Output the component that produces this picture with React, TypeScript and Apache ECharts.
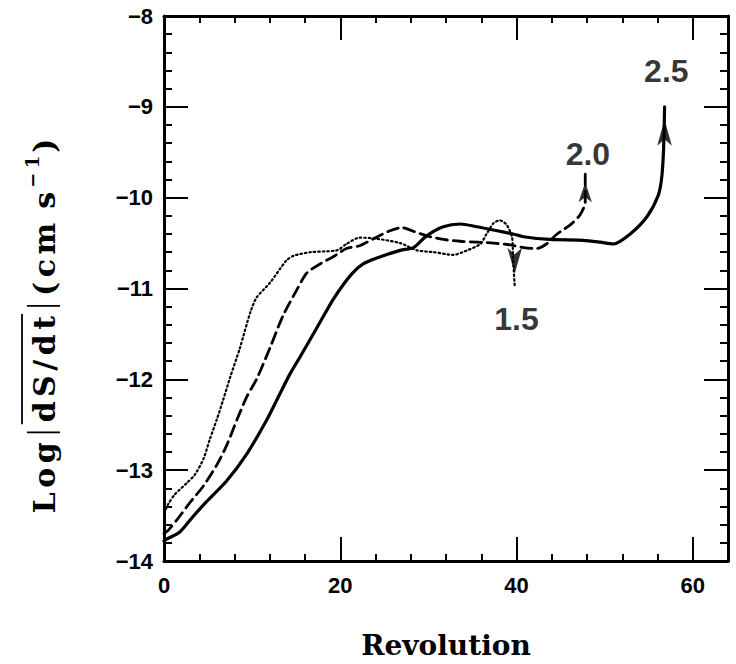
import React, { useEffect, useRef } from 'react';
import * as echarts from 'echarts';

// ---- data ----
const xTickLabels = [0, 20, 40, 60];
const yTickLabels = [-14, -13, -12, -11, -10, -9, -8];

const curve25: number[][] = [
  [0, -13.78], [0.3, -13.76], [1.8, -13.68], [3.3, -13.51], [4.8, -13.35], [7.1, -13.12],
  [9.4, -12.82], [11.7, -12.44], [13.2, -12.15], [14.3, -11.94], [15.4, -11.76], [17.3, -11.44],
  [19.2, -11.12], [20.4, -10.95], [21.5, -10.82], [22.6, -10.73], [24, -10.67], [26.8, -10.58],
  [28.3, -10.55], [29.8, -10.42], [31.7, -10.32], [33.6, -10.29], [35.5, -10.32], [38.1, -10.37],
  [39.6, -10.4], [40.8, -10.43], [43.8, -10.46], [47.6, -10.47], [49.5, -10.49], [51, -10.51],
  [52.9, -10.4], [54.8, -10.21], [56.1, -9.97], [56.5, -9.76], [56.7, -9.44], [56.8, -9.0],
];

const curve20: number[][] = [
  [0, -13.7], [0.5, -13.66], [1.6, -13.53], [3, -13.35], [4.5, -13.17], [6, -12.94],
  [7.1, -12.73], [8.3, -12.44], [9.4, -12.19], [10.5, -12.0], [12, -11.66], [13.5, -11.3],
  [15.1, -11.01], [16.2, -10.83], [17.7, -10.73], [19.2, -10.65], [20.7, -10.56], [22.2, -10.53],
  [24, -10.44], [25.5, -10.37], [27, -10.33], [28.3, -10.37], [29.8, -10.42], [31.7, -10.46],
  [33.6, -10.48], [35.5, -10.49], [37.4, -10.5], [39.3, -10.52], [40.8, -10.55], [42.3, -10.56],
  [43.4, -10.51], [44.6, -10.4], [46.1, -10.3], [47.2, -10.19], [47.8, -10.05], [47.8, -9.72],
];

const curve15: number[][] = [
  [0.2, -13.43], [0.5, -13.37], [1.2, -13.27], [2.6, -13.14], [3.5, -13.05], [4.5, -12.87],
  [5.2, -12.66], [6, -12.44], [6.7, -12.23], [7.5, -11.98], [8.6, -11.66], [9.8, -11.26],
  [10.5, -11.1], [12, -10.94], [13.9, -10.69], [14.7, -10.64], [16.6, -10.6], [19.6, -10.58],
  [20.7, -10.51], [22.2, -10.44], [24, -10.45], [26.8, -10.5], [28.7, -10.58], [30.6, -10.6],
  [32.8, -10.63], [34.4, -10.58], [35.9, -10.51], [36.6, -10.4], [37.4, -10.28], [38.1, -10.25],
  [38.9, -10.3], [39.5, -10.44], [39.6, -10.65], [39.8, -10.98],
];

const curveLabels = ['2.5', '2.0', '1.5'];
const labelAnchors: number[][] = [[57.0, -8.6], [48.1, -9.52], [40.0, -11.34]];

const X_MIN = 0, X_MAX = 64, Y_MIN = -14, Y_MAX = -8;

export default function App() {
  const ref = useRef<HTMLDivElement>(null);

  useEffect(() => {
    if (!ref.current) return;
    const chart = echarts.init(ref.current, null, { renderer: 'svg' });

    const cv = document.createElement('canvas').getContext('2d') as CanvasRenderingContext2D;
    const FAM = '"DejaVu Serif"';
    const FS = 30, FS_SUP = 18;
    const TRACK = 4.5;
    const measure = (t: string, size: number) => {
      cv.font = `bold ${size}px ${FAM}`;
      return cv.measureText(t).width;
    };

    // build rotated y-axis title (letters laid out one by one, a little spaced)
    const parts: any[] = [];
    let cx = 0;
    const gap = 10;
    const txt = (t: string, size = FS, y = 0) => {
      parts.push({ type: 'text', x: cx, y, style: { text: t, fontSize: size, fontWeight: 'bold', fontFamily: FAM, fill: '#000', verticalAlign: 'middle', align: 'left' } });
      cx += measure(t, size);
    };
    const word = (t: string, size = FS, y = 0) => {
      const chars = Array.from(t);
      chars.forEach((c, i) => {
        txt(c, size, y);
        if (i < chars.length - 1) cx += TRACK;
      });
    };
    const bar = () => {
      cx += gap;
      parts.push({ type: 'line', shape: { x1: cx, y1: -17, x2: cx, y2: 16 }, style: { stroke: '#000', lineWidth: 1.8 } });
      cx += gap;
    };
    word('Log');
    bar();
    const olStart = cx - 2;
    word('dS/dt');
    parts.push({ type: 'line', shape: { x1: olStart, y1: -22, x2: cx + 2, y2: -22 }, style: { stroke: '#000', lineWidth: 1.8 } });
    bar();
    word('(cm');
    cx += 14;
    word('s');
    cx += 4;
    word('\u22121', FS_SUP, -12);
    cx += 3;
    word(')');
    const total = cx;
    parts.forEach((p) => {
      if (p.type === 'text') p.x -= total / 2;
      else { p.shape.x1 -= total / 2; p.shape.x2 -= total / 2; }
    });

    const tickColor = '#000';
    const lineBase = { onZero: false, lineStyle: { color: '#000', width: 3 } };
    const xBase = { type: 'value', min: X_MIN, max: X_MAX, splitLine: { show: false } };
    const yBase = { type: 'value', min: Y_MIN, max: Y_MAX, splitLine: { show: false } };
    const labelStyle = { fontFamily: 'Liberation Sans', fontWeight: 'bold', fontSize: 22, color: '#000' };

    const xAxes: any[] = ['bottom', 'top'].flatMap((pos) => [
      { ...xBase, position: pos, interval: 4, axisLine: { show: true, ...lineBase }, axisTick: { inside: true, length: 7, lineStyle: { color: tickColor, width: 2 } }, axisLabel: { show: false } },
      {
        ...xBase, position: pos, interval: 20, axisLine: { show: false, onZero: false },
        axisTick: { inside: true, length: 24, lineStyle: { color: tickColor, width: 2 } },
        axisLabel: pos === 'bottom'
          ? { show: true, ...labelStyle, margin: 13, formatter: (v: number) => (xTickLabels.includes(v) ? String(v) : '') }
          : { show: false },
        name: pos === 'bottom' ? 'Revolution' : '',
        nameLocation: 'middle', nameGap: 70,
        nameTextStyle: { fontFamily: FAM, fontWeight: 'bold', fontSize: 28, color: '#000' },
      },
    ]);

    const yAxes: any[] = ['left', 'right'].flatMap((pos) => [
      { ...yBase, position: pos, interval: 0.2, axisLine: { show: true, ...lineBase }, axisTick: { inside: true, length: 8, lineStyle: { color: tickColor, width: 2 } }, axisLabel: { show: false } },
      {
        ...yBase, position: pos, interval: 1, axisLine: { show: false, onZero: false },
        axisTick: { inside: true, length: 24, lineStyle: { color: tickColor, width: 2 } },
        axisLabel: pos === 'left'
          ? {
            show: true, ...labelStyle, margin: 11, showMinLabel: true, showMaxLabel: true,
            formatter: (v: number) => {
              const r = Math.round(v);
              return yTickLabels.includes(r) ? (r < 0 ? '\u2212' + String(-r) : String(r)) : '';
            },
          }
          : { show: false },
      },
    ]);

    const lineSeries = (data: number[][], type: any, width: number) => ({
      type: 'line', xAxisIndex: 0, yAxisIndex: 0, data, showSymbol: false, smooth: 0.25,
      lineStyle: { color: '#000', width, type, cap: 'round' }, silent: true,
    });

    const tip = (c: number[][]) => c[c.length - 1];

    chart.setOption({
      animation: false,
      backgroundColor: '#fff',
      grid: { left: 164, right: 8, top: 16, bottom: 89, containLabel: false },
      xAxis: xAxes,
      yAxis: yAxes,
      series: [
        lineSeries(curve25, 'solid', 3.2),
        lineSeries(curve20, [11, 6], 2.8),
        lineSeries(curve15, [1.5, 3], 2.2),
        {
          type: 'scatter', xAxisIndex: 0, yAxisIndex: 0, symbol: 'arrow', symbolSize: [11, 26],
          itemStyle: { color: '#000' }, silent: true, z: 5,
          data: [
            { value: tip(curve25), symbolOffset: [0, '50%'] },
            { value: tip(curve20), symbolOffset: [0, '50%'], symbolSize: [10, 20] },
            { value: tip(curve15), symbolRotate: 180, symbolOffset: [0, '-50%'] },
          ],
        },
        {
          type: 'scatter', xAxisIndex: 0, yAxisIndex: 0, symbolSize: 0, itemStyle: { color: '#000' }, silent: true,
          data: labelAnchors.map((p, i) => [p[0], p[1], curveLabels[i]]),
          label: {
            show: true, position: 'inside', formatter: (p: any) => p.data[2],
            fontFamily: 'Liberation Sans', fontWeight: 'bold', fontSize: 32, color: '#000',
            textBorderWidth: 0,
          },
        },
      ],
      graphic: [
        { type: 'group', x: 44, y: 326, rotation: Math.PI / 2, children: parts },
      ],
    });

    return () => chart.dispose();
  }, []);

  return <div ref={ref} style={{ position: 'fixed', left: 0, top: 0, width: 736, height: 664, background: '#fff' }} />;
}
